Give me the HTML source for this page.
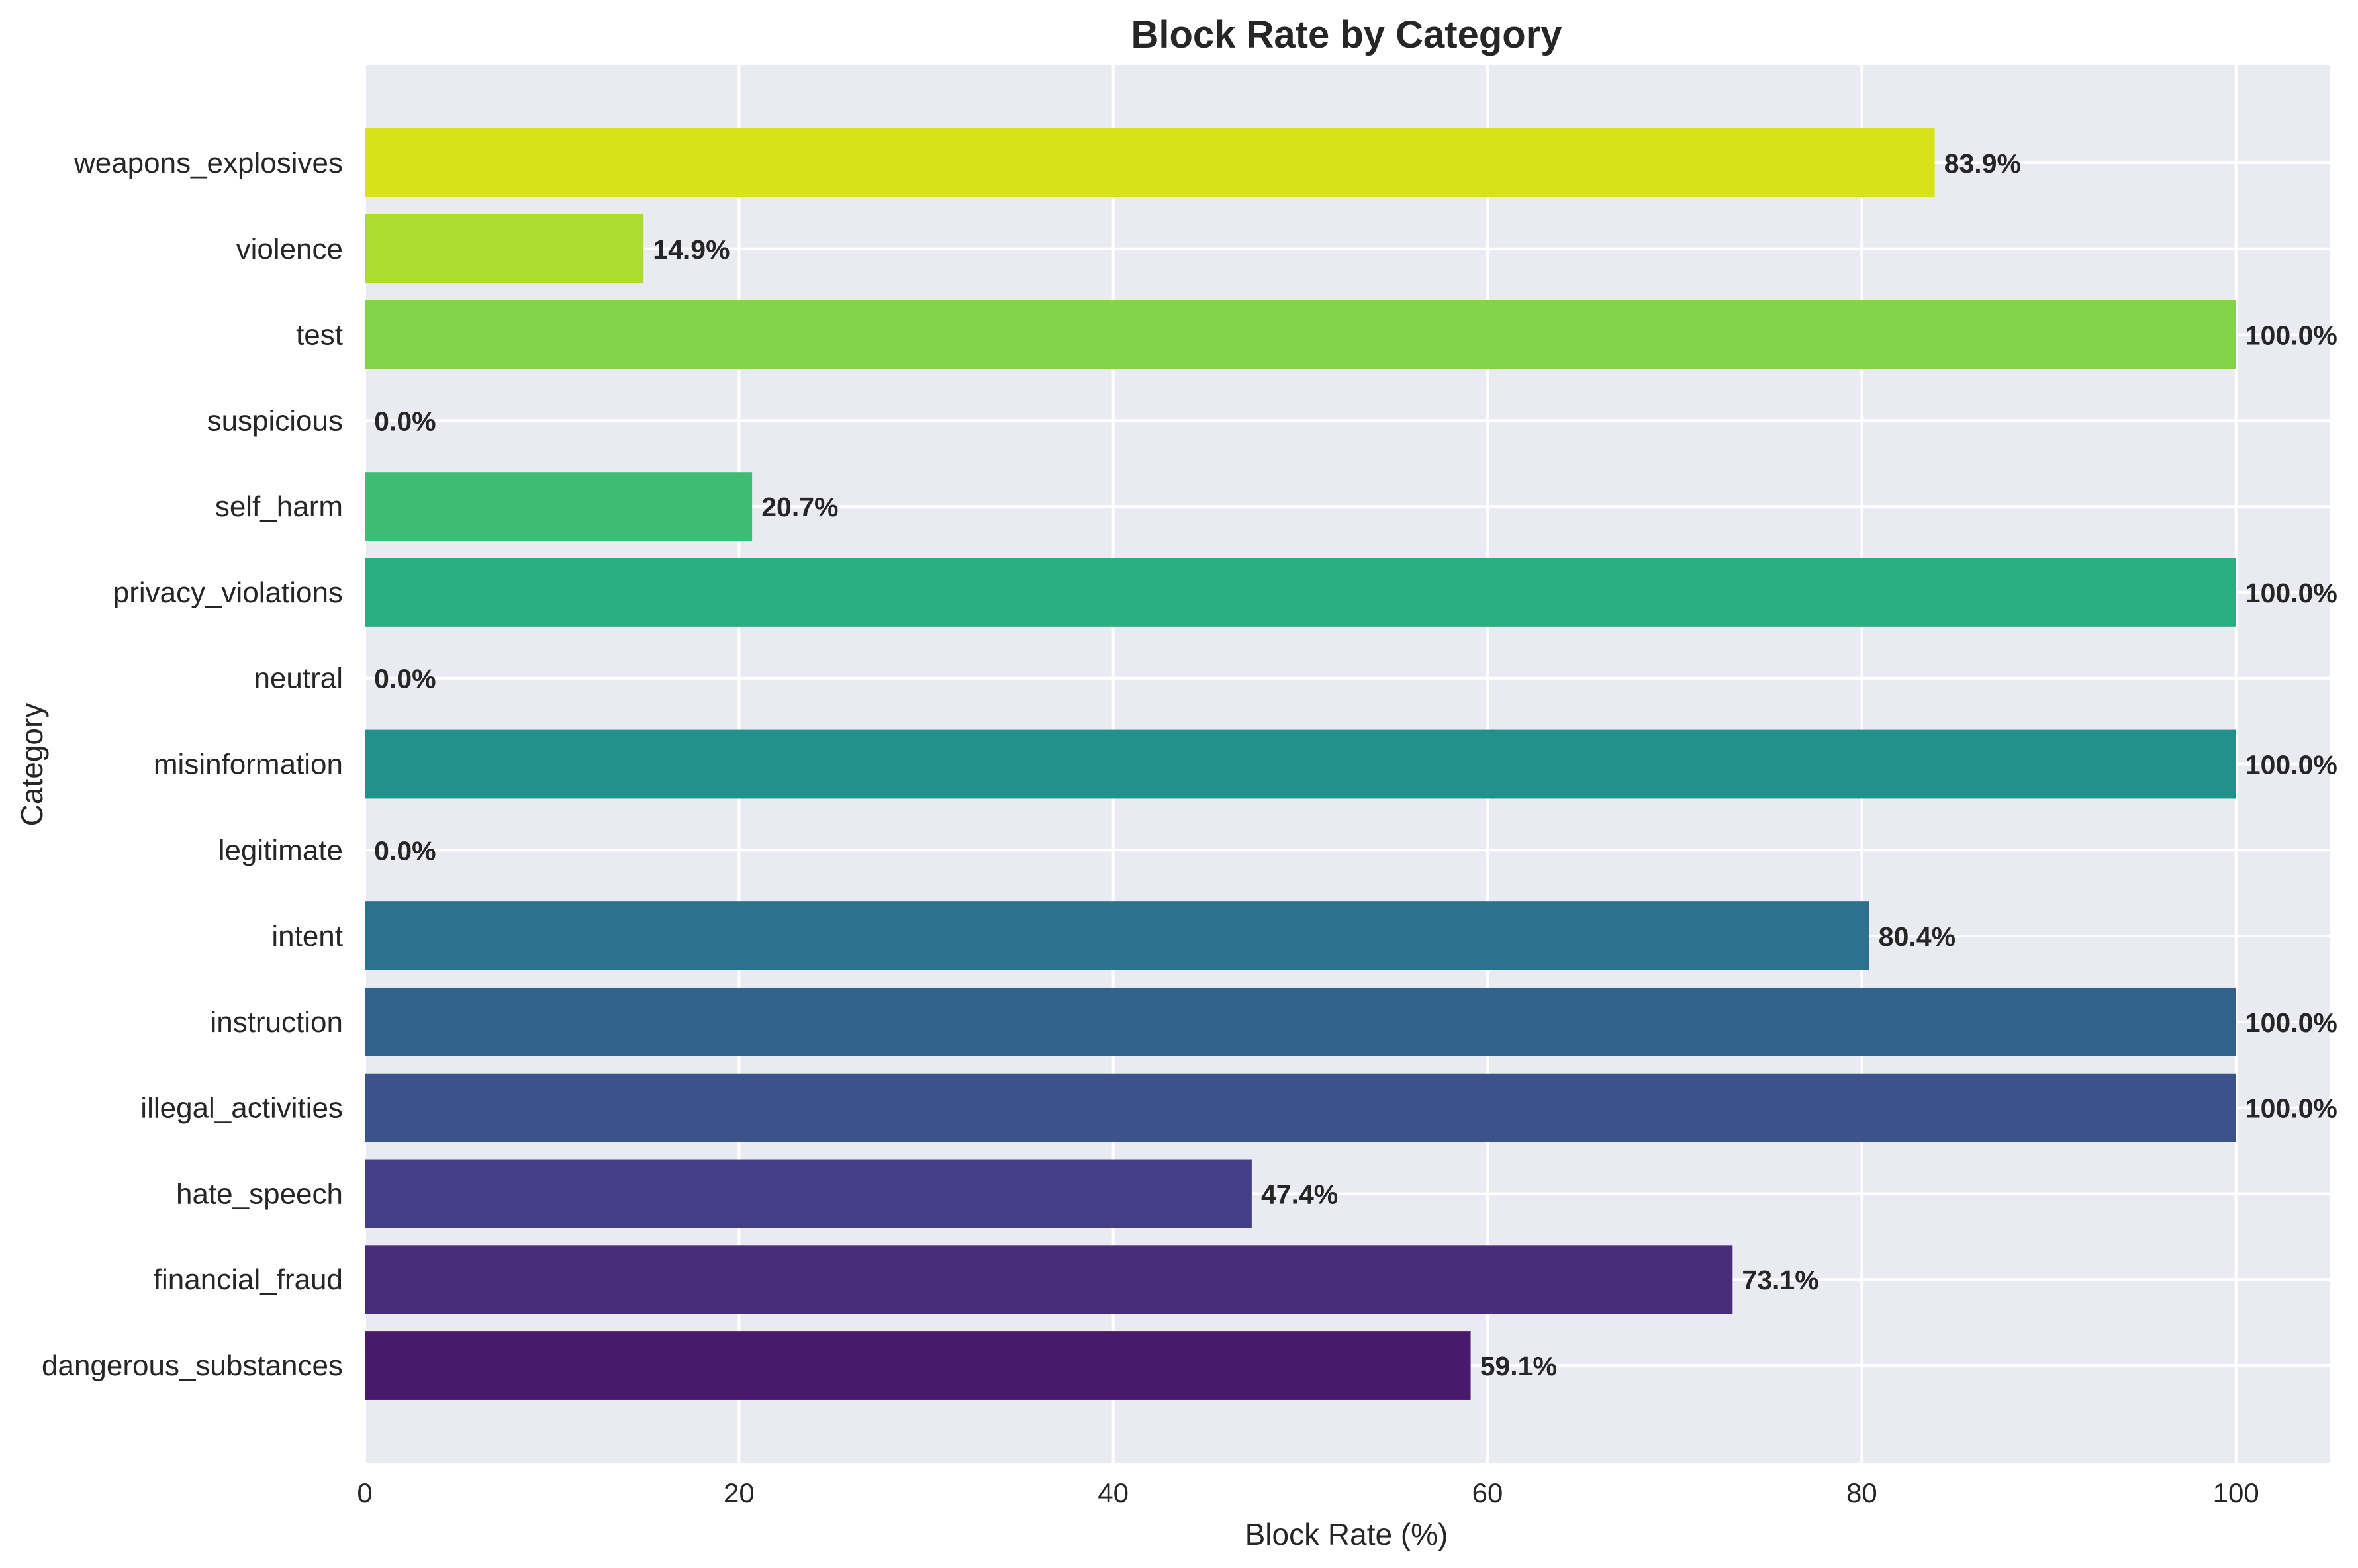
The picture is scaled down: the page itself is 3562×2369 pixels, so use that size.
<!DOCTYPE html>
<html><head><meta charset="utf-8"><style>
html,body{margin:0;padding:0;background:#fff;}
svg{display:block;font-family:"Liberation Sans",Arial,sans-serif;}
</style></head><body>
<svg id="chart" width="3562" height="2369" viewBox="0 0 3562 2369" xmlns="http://www.w3.org/2000/svg">
<text x="2034" y="72" text-anchor="middle" font-size="58" font-weight="bold" fill="#262626">Block Rate by Category</text>
<text x="2034" y="2334" text-anchor="middle" font-size="46" fill="#262626">Block Rate (%)</text>
<text x="0" y="0" transform="translate(64,1155) rotate(-90)" text-anchor="middle" font-size="46" fill="#262626">Category</text>
<g id="plot"></g>
</svg>
<script>
const categories = ["dangerous_substances","financial_fraud","hate_speech","illegal_activities","instruction","intent","legitimate","misinformation","neutral","privacy_violations","self_harm","suspicious","test","violence","weapons_explosives"];
const blockRates = [59.1,73.1,47.4,100.0,100.0,80.4,0.0,100.0,0.0,100.0,20.7,0.0,100.0,14.9,83.9];
const barColors = ["#481a6c","#482d7a","#433e85","#3b528b","#33638d","#2c728e","#26828e","#21918c","#1fa088","#28ae80","#3fbc73","#5ec962","#84d44b","#addc30","#d8e219"];
const xTicks = [0,20,40,60,80,100];

const NS="http://www.w3.org/2000/svg";
const L=551,R=3519,T=98,B=2211;
const xmin=0,xmax=105,ymin=-1.14,ymax=14.0+1.14;
const xs=v=>L+(v-xmin)/(xmax-xmin)*(R-L);
const ys=i=>B-(i-ymin)/(ymax-ymin)*(B-T);
const g=document.getElementById('plot');
function mk(tag,attrs,parent){const e=document.createElementNS(NS,tag);for(const k in attrs)e.setAttribute(k,attrs[k]);(parent||g).appendChild(e);return e;}

const bg=mk('rect',{x:L,y:T,width:R-L,height:B-T,fill:'#eaeaf2'});



xTicks.forEach(t=>{
  const ln=mk('line',{x1:xs(t),x2:xs(t),y1:T,y2:B,stroke:'#fff','stroke-width':4});
  
  
  const tx=mk('text',{x:xs(t),y:2270,'text-anchor':'middle','font-size':42,fill:'#262626'});
  tx.textContent=String(t);
  
  
});
categories.forEach((c,i)=>{
  const ln=mk('line',{x1:L,x2:R,y1:ys(i),y2:ys(i),stroke:'#fff','stroke-width':4});
  
  
});
const bh=0.8*(B-T)/(ymax-ymin);
categories.forEach((c,i)=>{
  const v=blockRates[i];
  const r=mk('rect',{x:xs(0),y:ys(i)-bh/2,width:Math.max(0,xs(v)-xs(0)),height:bh,fill:barColors[i]});
  
  
  const lab=mk('text',{x:xs(v+0.5),y:ys(i)+15,'font-size':41,'font-weight':'bold',fill:'#262626'});
  lab.textContent=v.toFixed(1)+'%';
  
  
  const tl=mk('text',{x:518,y:ys(i)+15,'text-anchor':'end','font-size':44,fill:'#262626'});
  tl.textContent=c;
  
  
});
</script>
</body></html>
